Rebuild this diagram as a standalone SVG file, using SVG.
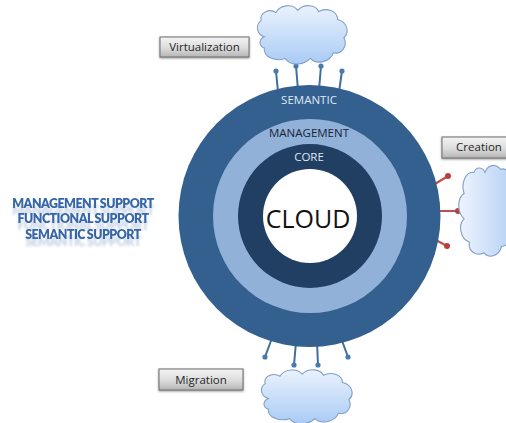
<svg xmlns="http://www.w3.org/2000/svg" width="506" height="423" viewBox="0 0 506 423">
<style>
text{font-family:"Open Sans","Noto Sans","Liberation Sans",sans-serif;text-anchor:middle}
.lbl{font-size:11.5px;fill:#262626}
.ring{font-size:11.5px;fill:#dfe8f2}
.sup{font-family:Lato,"Liberation Sans",sans-serif;font-size:12.4px;font-weight:800;fill:#3566a8;letter-spacing:-.5px;word-spacing:-.5px;filter:url(#refl)}
.box{fill:url(#btn);stroke:#6f6f6f;stroke-width:1;filter:url(#sh)}
.cl{fill:url(#cg);stroke:#7f9fc8;stroke-width:1}
.pb{stroke:#3f6f9f;stroke-width:2;fill:none}
.pbd{fill:#4a7aaa}
.pr{stroke:#c0504d;stroke-width:2.2;fill:none}
.prd{fill:#b83f3f}
</style>
<defs>
<linearGradient id="btn" x1="0" y1="0" x2="0" y2="1"><stop offset="0" stop-color="#f4f4f4"/><stop offset=".55" stop-color="#dcdcdc"/><stop offset="1" stop-color="#b5b5b5"/></linearGradient>
<linearGradient id="cg" x1="0" y1="0" x2="0" y2="1"><stop offset="0" stop-color="#eaf2fd"/><stop offset="1" stop-color="#a9cbf5"/></linearGradient>
<linearGradient id="cgr" x1="0" y1="0" x2="0" y2="1"><stop offset="0" stop-color="#b4d0f5"/><stop offset="1" stop-color="#eef4fd"/></linearGradient>
<filter id="sh" x="-10%" y="-20%" width="120%" height="150%"><feDropShadow dx="0" dy="1" stdDeviation=".8" flood-color="#555" flood-opacity=".6"/></filter>
<filter id="refl" x="-5%" y="-20%" width="110%" height="170%"><feGaussianBlur in="SourceAlpha" stdDeviation=".8 1.6" result="b"/><feOffset in="b" dy="7" result="o"/><feFlood flood-color="#8fa9cc" flood-opacity=".5"/><feComposite in2="o" operator="in" result="s"/><feMerge><feMergeNode in="s"/><feMergeNode in="SourceGraphic"/></feMerge></filter>
<path id="cloud" d="M10 30C3 28 1 20 7 16C5 9 15 5 21 9C25 2 37 1 42 7C48 1 59 2 62 8C70 4 80 8 80 15C89 17 92 26 86 31C90 38 84 46 76 44C73 52 60 55 54 49C47 56 34 55 30 49C21 52 9 48 10 40C4 38 5 32 10 30Z"/>
</defs>
<g id="connectors">
<path class="pb" d="M278 92L276 71M298 90L296 66M319 90L321 66M339 92L342 71"/>
<circle class="pbd" cx="276" cy="71" r="2.600"/><circle class="pbd" cx="296" cy="66" r="2.600"/><circle class="pbd" cx="321" cy="66" r="2.600"/><circle class="pbd" cx="342" cy="71" r="2.600"/>
<path class="pb" d="M272 338L265 357M296 342L294 365M317 342L318 365M341 338L348 357"/>
<circle class="pbd" cx="265" cy="357" r="2.600"/><circle class="pbd" cx="294" cy="365" r="2.600"/><circle class="pbd" cx="318" cy="365" r="2.600"/><circle class="pbd" cx="348" cy="357" r="2.600"/>
<path class="pr" d="M430 187L448 176M435 211L458 211M432 238L447 246"/>
<circle class="prd" cx="448" cy="176" r="3"/><circle class="prd" cx="458" cy="211" r="3"/><circle class="prd" cx="447" cy="246" r="3"/>
</g>
<g id="rings">
<circle cx="309.500" cy="216" r="131" fill="#34608f"/>
<circle cx="310" cy="216" r="97" fill="#92b1d8"/>
<circle cx="310" cy="216" r="72" fill="#213e63"/>
<circle cx="310" cy="216" r="47" fill="#fff"/>
<text class="ring" x="309" y="104">SEMANTIC</text>
<text x="309" y="137" style="font-size:11.500px;fill:#16253a">MANAGEMENT</text>
<text class="ring" x="309" y="161">CORE</text>
<text x="308" y="228" style="font-size:25px;fill:#111">CLOUD</text>
</g>
<g id="cloud-top"><use href="#cloud" class="cl" transform="translate(253.800 2.300) scale(1.047 1.146)"/></g>
<g id="cloud-bottom"><use href="#cloud" class="cl" transform="translate(257.800 366.700) scale(1.058 1.060)"/></g>
<g id="cloud-right"><use href="#cloud" fill="url(#cgr)" stroke="#7f9fc8" transform="translate(518 161.800) rotate(90) scale(1.058 1.100)"/></g>
<g id="virtualization"><rect class="box" x="160" y="37" width="89" height="20"/><text class="lbl" x="204.500" y="51">Virtualization</text></g>
<g id="creation"><rect class="box" x="442" y="137" width="66" height="21"/><text class="lbl" x="479" y="151">Creation</text></g>
<g id="migration"><rect class="box" x="159" y="369" width="84" height="21"/><text class="lbl" x="201" y="384">Migration</text></g>
<g id="support">
<text class="sup" x="83" y="208">MANAGEMENT SUPPORT</text>
<text class="sup" x="83" y="223">FUNCTIONAL SUPPORT</text>
<text class="sup" x="83" y="239">SEMANTIC SUPPORT</text>
</g>
</svg>
